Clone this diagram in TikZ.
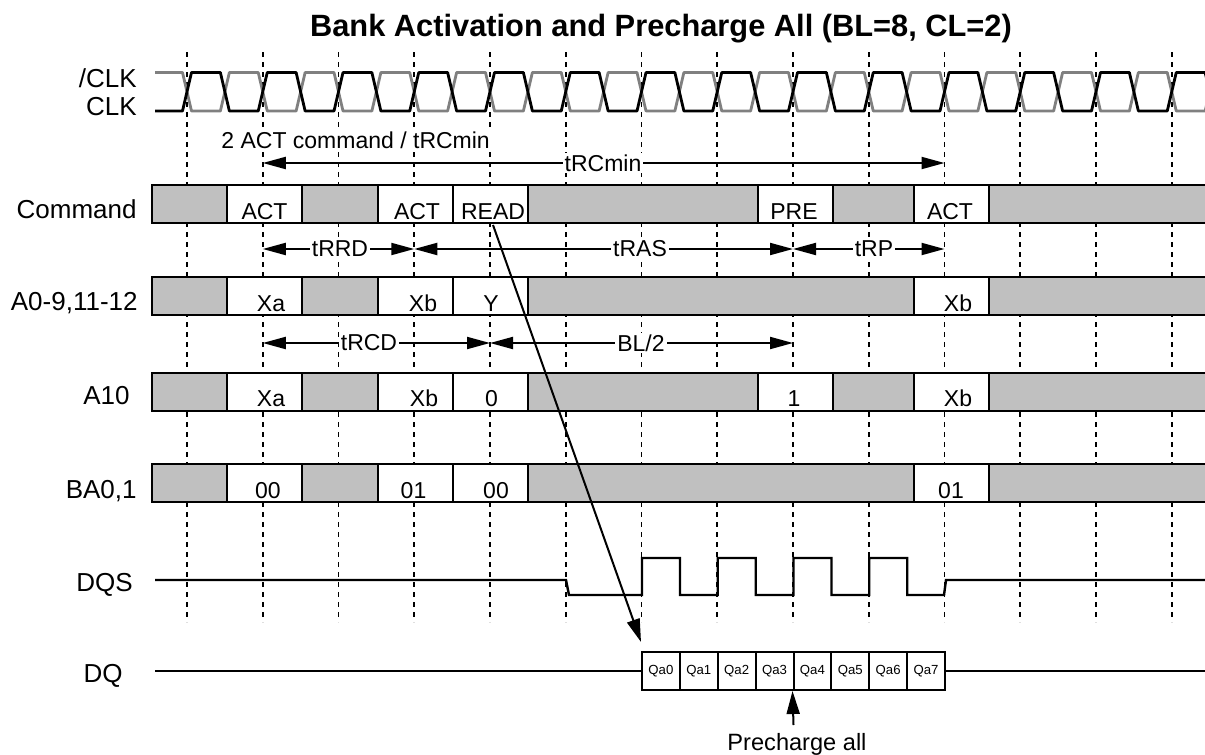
\documentclass[tikz,border=0pt]{standalone}
\usepackage{fontspec}
\setmainfont{Liberation Sans}
\usetikzlibrary{arrows.meta}
\definecolor{busgray}{RGB}{192,192,192}
\definecolor{clkgray}{RGB}{128,128,128}
\tikzset{
  gridline/.style={draw=black, line width=0.8pt, dash pattern=on 2.5pt off 2.5pt},
  clkline/.style={line width=1.4pt, line join=round},
  buscell/.style={draw=black, line width=1.4pt},
  celltext/.style={anchor=base, inner sep=0pt, font=\fontsize{11.5}{13}\selectfont},
  sigtext/.style={anchor=base east, inner sep=0pt, font=\fontsize{13}{15}\selectfont},
  dimline/.style={line width=1pt, {Triangle[length=11.5pt,width=6pt]}-{Triangle[length=11.5pt,width=6pt]}},
  dimlabel/.style={fill=white, inner sep=1pt, font=\fontsize{11.5}{13}\selectfont},
  qcell/.style={draw, line width=1pt, minimum width=18.94pt, minimum height=19pt,
    inner sep=0pt, font=\fontsize{6.6}{7}\selectfont},
  sigline/.style={line width=1.2pt},
  pointer/.style={line width=1pt, -{Triangle[length=11.5pt,width=6.5pt]}}
}
\begin{document}
\begin{tikzpicture}[x=0.5pt, y=-0.5pt]
\useasboundingbox (0,0) rectangle (1205,755);
\clip (0,0) rectangle (1205,755);

% -------- clock edges and grid --------
\foreach \k in {0,...,13}
  \coordinate (e\k) at ({187+75.75*\k},0);
\foreach \k in {0,...,13}
  \draw[gridline] (e\k |- 0,52) -- (e\k |- 0,622);

\node[font=\bfseries\fontsize{15.4}{18}\selectfont, anchor=base] (title) at (661,36)
  {Bank Activation and Precharge All (BL=8, CL=2)};

% -------- CLK / CLK# --------
\draw[clkline, draw=clkgray] (155,72.5) \foreach \k in {0,...,13} {
  -- ({187+75.75*\k-4.5},72.5) -- ({187+75.75*\k+4.5},111)
  -- ({224.875+75.75*\k-4.5},111) -- ({224.875+75.75*\k+4.5},72.5) };
\draw[clkline] (155,111) \foreach \k in {0,...,13} {
  -- ({187+75.75*\k-4.5},111) -- ({187+75.75*\k+4.5},72.5)
  -- ({224.875+75.75*\k-4.5},72.5) -- ({224.875+75.75*\k+4.5},111) };

% -------- bus rows --------
\foreach \top in {185,373}
  \foreach \xa/\xb/\col in {152/227/busgray, 227/302/white, 302/378/busgray, 378/453/white,
      453/528/white, 528/758/busgray, 758/833/white, 833/914/busgray, 914/989/white, 989/1215/busgray}
    \draw[buscell, fill=\col] (\xa,\top) rectangle (\xb,\top+38);
\foreach \top in {277,464}
  \foreach \xa/\xb/\col in {152/227/busgray, 227/302/white, 302/378/busgray, 378/453/white,
      453/528/white, 528/914/busgray, 914/989/white, 989/1215/busgray}
    \draw[buscell, fill=\col] (\xa,\top) rectangle (\xb,\top+38);

\foreach \x/\y/\txt [count=\i] in {264.5/219/ACT, 417/219/ACT, 493/219/READ, 794/219/PRE, 950/219/ACT,
    271/311/Xa, 423/311/Xb, 491/311/Y, 958/311/Xb,
    271/406/Xa, 424/406/Xb, 491.5/406/0, 794/406/1, 958/406/Xb,
    268/498/00, 413.5/498/01, 496/498/00, 951/498/01}
  \node[celltext] (t\i) at (\x,\y) {\txt};

% -------- signal names --------
\node[sigtext] (lclkn) at (137,87) {/CLK};
\node[sigtext] (lclk) at (137,115) {CLK};
\node[sigtext] (lcmd) at (137,218) {Command};
\node[sigtext] (laddr) at (138,310) {A0-9,11-12};
\node[sigtext] (la10) at (130,404) {A10};
\node[sigtext] (lba) at (137,498) {BA0,1};
\node[sigtext] (ldqs) at (133,591) {DQS};
\node[sigtext] (ldq) at (123,682) {DQ};

% -------- timing parameters --------
\node[dimlabel, anchor=base west] (actnote) at (219,148) {2 ACT command / tRCmin};
\foreach \a/\b/\y/\lx/\txt [count=\i] in {1/10/163/603/tRCmin, 1/3/249/340/tRRD, 3/8/249/640/tRAS,
    8/10/249/874/tRP, 1/4/343/369/tRCD, 4/8/343/641/{BL/2}} {
  \draw[dimline] (e\a |- 0,\y) -- (e\b |- 0,\y);
  \node[dimlabel] (d\i) at (\lx,\y) {\txt};
}

% -------- DQS --------
\draw[sigline] (155,580) -- (566,580) -- (569,595) \foreach \k in {0,...,3} {
  -- ({642+75.75*\k},595) -- ({642+75.75*\k},558) -- ({680+75.75*\k},558) -- ({680+75.75*\k},595) }
  -- (944,595) -- (946,580) -- (1215,580);

% -------- DQ burst --------
\foreach \i in {0,...,7}
  \node[qcell] (q\i) at ({642+37.875*(\i+0.5)},671) {Qa\i};
\coordinate (dqa) at (155,671);
\coordinate (dqb) at (1215,671);
\draw[sigline] (dqa) -- (q0.west);
\draw[sigline] (q7.east) -- (dqb);

\node[anchor=base, inner sep=0pt, font=\fontsize{11.8}{14}\selectfont] (pall) at (797,750) {Precharge all};
\coordinate (pbase) at (793.5,725);
\draw[pointer] (pbase) -- (q4.south west);

% READ to first data out
\coordinate (rdfoot) at (493,225);
\draw[pointer] (rdfoot) -- ([yshift=4.5pt]q0.north west);

\end{tikzpicture}
\end{document}
